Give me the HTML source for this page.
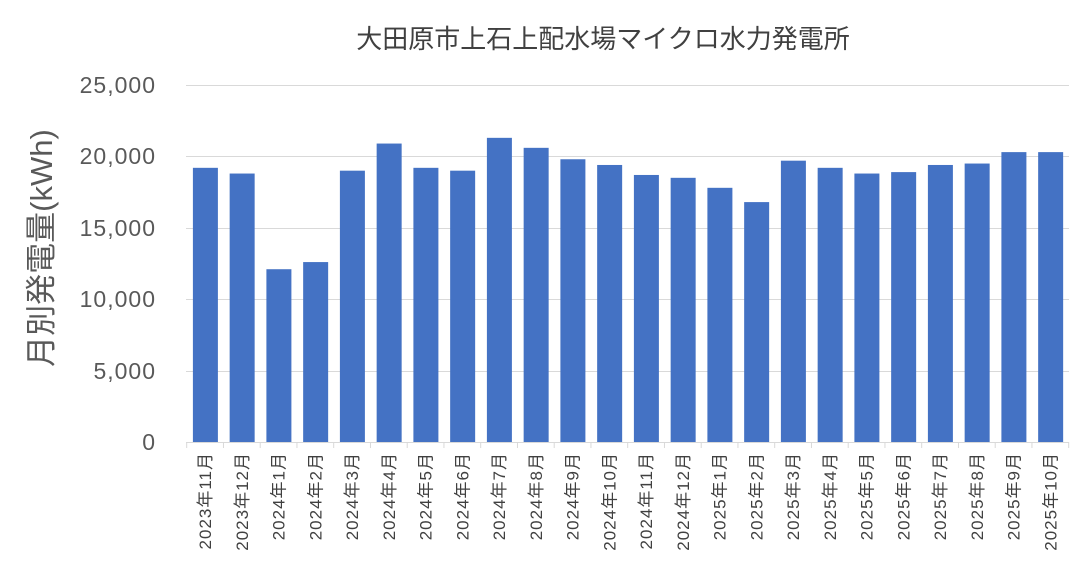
<!DOCTYPE html>
<html><head><meta charset="utf-8"><style>body{margin:0;background:#fff}</style></head><body>
<svg width="1087" height="566" xmlns="http://www.w3.org/2000/svg" font-family="'Liberation Sans','Noto Sans CJK JP',sans-serif">
<rect width="1087" height="566" fill="#fff"/>
<text x="603" y="48" font-size="26" fill="#404040" text-anchor="middle">大田原市上石上配水場マイクロ水力発電所</text>
<g stroke="#d9d9d9" stroke-width="1">
<line x1="186" x2="1069" y1="85.5" y2="85.5"/><line x1="186" x2="1069" y1="156.5" y2="156.5"/><line x1="186" x2="1069" y1="228.5" y2="228.5"/><line x1="186" x2="1069" y1="299.5" y2="299.5"/><line x1="186" x2="1069" y1="371.5" y2="371.5"/><line x1="186" x2="1069" y1="442.5" y2="442.5"/>
</g>
<g font-size="23" fill="#595959" text-anchor="end" letter-spacing="1">
<text x="156" y="93">25,000</text><text x="156" y="164">20,000</text><text x="156" y="236">15,000</text><text x="156" y="307">10,000</text><text x="156" y="379">5,000</text><text x="156" y="450">0</text>
</g>
<text transform="translate(52,248) rotate(-90)" font-size="31" fill="#595959" text-anchor="middle">月別発電量(kWh)</text>
<g id="bars" fill="#4472c4"></g>
<g id="ticks" stroke="#d9d9d9"></g>
<g id="labels" font-size="17" fill="#404040" letter-spacing="1"></g>
<script>
var v=[19200,18800,12100,12600,19000,20900,19200,19000,21300,20600,19800,19400,18700,18500,17800,16800,19700,19200,18800,18900,19400,19500,20300,20300];
var lab=["2023年11月","2023年12月","2024年1月","2024年2月","2024年3月","2024年4月","2024年5月","2024年6月","2024年7月","2024年8月","2024年9月","2024年10月","2024年11月","2024年12月","2025年1月","2025年2月","2025年3月","2025年4月","2025年5月","2025年6月","2025年7月","2025年8月","2025年9月","2025年10月"];
var ns="http://www.w3.org/2000/svg",w=(1068.7-186.7)/24;
for(var i=0;i<24;i++){var x=186.7+i*w;
var r=document.createElementNS(ns,"rect");var h=v[i]*0.014280;r.setAttribute("x",x+6.2);r.setAttribute("width",25);r.setAttribute("y",442-h);r.setAttribute("height",h);document.getElementById("bars").appendChild(r);
var l=document.createElementNS(ns,"line");l.setAttribute("x1",x);l.setAttribute("x2",x);l.setAttribute("y1",442);l.setAttribute("y2",448);document.getElementById("ticks").appendChild(l);
var t=document.createElementNS(ns,"text");t.setAttribute("transform","translate("+(x+w/2+6)+",452) rotate(-90)");t.setAttribute("text-anchor","end");t.textContent=lab[i];document.getElementById("labels").appendChild(t);}
var l=document.createElementNS(ns,"line");l.setAttribute("x1",1068.7);l.setAttribute("x2",1068.7);l.setAttribute("y1",442);l.setAttribute("y2",448);document.getElementById("ticks").appendChild(l);
</script>
</svg>
</body></html>
